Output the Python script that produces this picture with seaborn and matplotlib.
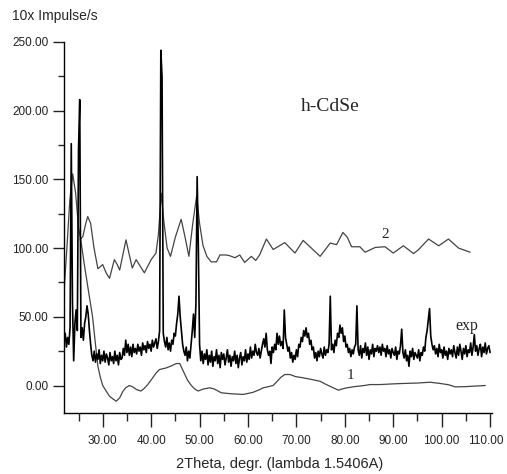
import numpy as np
import pandas as pd
import seaborn as sns
from matplotlib import pyplot as plt
from matplotlib.ticker import MultipleLocator, FormatStrFormatter
from matplotlib.transforms import ScaledTranslation

# experimental pattern, one value every 0.25 deg from 22.00 to 110.00
exp_start, exp_step = 22.0, 0.25
exp_y = [
    32, 38, 28, 35, 30, 42, 176, 60, 18, 45, 55, 40, 172, 208, 35, 42, 33, 45, 50, 58,   # 22
    52, 40, 30, 22, 18, 25, 17, 23, 19, 26, 16, 22, 18, 25, 17, 23, 20, 15, 24, 18,     # 27
    21, 16, 25, 18, 22, 15, 24, 19, 20, 27, 22, 33, 24, 30, 22, 28, 21, 30, 24, 27,     # 32
    23, 30, 25, 28, 22, 31, 26, 29, 24, 32, 27, 30, 25, 33, 28, 31, 34, 27, 32, 40,     # 37
    244, 225, 38, 32, 28, 35, 26, 31, 25, 33, 30, 38, 36, 45, 52, 65, 50, 40, 30, 25,   # 42
    22, 28, 18, 25, 20, 30, 40, 52, 35, 60, 152, 100, 30, 18, 25, 16, 23, 19, 26, 15,  # 47
    22, 17, 25, 14, 21, 18, 26, 16, 22, 13, 24, 19, 23, 15, 20, 26, 17, 22, 14, 21,     # 52
    18, 25, 16, 22, 13, 20, 24, 15, 21, 18, 26, 17, 23, 19, 28, 20, 25, 22, 30, 24,     # 57
    22, 27, 20, 25, 30, 34, 28, 38, 26, 22, 25, 16, 28, 24, 30, 26, 38, 30, 36, 29,     # 62
    32, 27, 55, 35, 30, 25, 28, 20, 24, 17, 22, 19, 26, 21, 30, 28, 35, 32, 40, 36,     # 67
    42, 35, 38, 30, 33, 26, 28, 20, 24, 18, 25, 21, 27, 23, 20, 28, 22, 26, 24, 30,     # 72
    65, 26, 30, 24, 33, 29, 38, 35, 44, 38, 42, 32, 36, 28, 30, 24, 27, 21, 26, 23,     # 77
    28, 30, 58, 26, 22, 29, 20, 27, 24, 31, 22, 28, 19, 26, 23, 30, 21, 27, 25, 29,     # 82
    24, 28, 22, 30, 25, 27, 21, 29, 23, 26, 20, 27, 24, 22, 28, 19, 25, 23, 29, 41,     # 87
    24, 20, 26, 18, 22, 14, 25, 21, 27, 19, 24, 22, 20, 26, 18, 24, 22, 28, 25, 35,     # 92
    40, 48, 56, 36, 30, 26, 29, 23, 27, 21, 30, 24, 26, 20, 28, 22, 25, 19, 27, 23,     # 97
    26, 21, 29, 24, 20, 28, 22, 30, 25, 19, 27, 23, 29, 21, 26, 24, 31, 22, 28, 37,     # 102
    25, 29, 22, 27, 30, 21, 28, 24, 31, 23, 27, 29, 24,                                 # 107
]
exp_x = exp_start + exp_step * np.arange(len(exp_y))

# calculated pattern 1
c1_x = [22.0, 22.6, 23.2, 23.8, 24.4, 25.0, 25.5, 26.2, 27.0, 27.9, 28.5, 29.0, 29.5,
        30.0, 30.7, 31.4, 32.2, 32.8, 33.5, 34.2, 34.8, 35.5, 36.2, 37.0, 37.9, 38.6,
        39.3, 40.2, 41.0, 41.7, 43.1, 44.3, 45.2, 45.9, 46.7, 47.5, 48.3, 49.0, 49.7,
        50.8, 52.1, 53.0, 54.5, 56.5, 59.0, 61.0, 62.4, 63.1, 64.0, 65.2, 66.0, 66.8,
        67.6, 68.7, 69.8, 71.4, 73.0, 74.9, 76.0, 77.5, 78.7, 79.5, 80.4, 82.0, 84.0,
        85.2, 87.3, 90.0, 92.1, 95.0, 97.6, 99.7, 101.5, 102.8, 105.0, 107.0, 109.0]
c1_y = [68, 100, 135, 154, 140, 115, 105, 88, 70, 50, 30, 14, 6,
        0, -4, -7.8, -10, -11.4, -9, -4, -1.5, 0, -1, -3, -4, -2,
        0.7, 5, 9, 11.6, 12.8, 14.5, 16, 16, 10, 4, 0, -2.5, -4,
        -2.5, -1.7, -2.5, -5.3, -6, -6.5, -5, -3, -1.7, -1, 0, 3, 6,
        8, 8, 6.5, 5.6, 4.5, 3.1, 1, -1.5, -3.4, -2.5, -1.7, -0.8, 0,
        0.7, 0.7, 1.2, 1.5, 1.8, 2.4, 1.5, 0.5, -1, -0.8, -0.4, 0]

# calculated pattern 2
c2_x = [25.3, 25.9, 26.5, 26.9, 27.5, 28.2, 29.0, 30.0, 30.7, 31.4, 32.4, 33.0, 33.5,
        34.8, 36.1, 36.9, 38.6, 40.0, 41.0, 41.5, 42.1, 42.6, 43.3, 44.0, 45.0, 46.2,
        47.0, 47.8, 48.6, 49.4, 50.0, 50.7, 51.5, 52.4, 53.5, 54.2, 55.5, 56.2, 57.3,
        58.3, 59.3, 60.7, 61.6, 62.4, 63.8, 65.2, 67.6, 69.7, 71.4, 74.9, 77.0, 78.3,
        79.6, 80.5, 81.4, 83.1, 84.2, 86.3, 88.3, 90.0, 92.1, 94.2, 95.2, 97.3, 99.4,
        101.4, 103.5, 105.9]
c2_y = [106, 108.5, 118, 123, 118, 100, 85, 88, 82, 78, 91.6, 88, 84,
        106, 85.5, 91.6, 82, 91.6, 96.4, 110, 140, 120, 100, 94, 108, 121,
        108, 94, 118, 138, 118, 102, 94, 90, 90, 95, 95, 94.5, 93,
        95, 89.6, 94, 91, 95, 106.6, 99, 104, 96.4, 105.6, 94, 103.7, 102.5,
        111.4, 108, 101, 101, 97, 100.5, 101, 96.4, 101.7, 96, 98.8, 106.6, 101.7,
        106.6, 100, 97]

x_major = 10
y_major = 50

sns.set_style('ticks')
plt.rcParams['font.family'] = ['Liberation Sans', 'DejaVu Sans']

fig = plt.figure(figsize=(5.07, 4.74), dpi=100)
ax = fig.add_axes([64 / 507, 1 - 413 / 474, (492 - 64) / 507, (413 - 42) / 474])

df_exp = pd.DataFrame({'x': exp_x, 'y': exp_y})
df_1 = pd.DataFrame({'x': c1_x, 'y': c1_y})
df_2 = pd.DataFrame({'x': c2_x, 'y': c2_y})

sns.lineplot(data=df_1, x='x', y='y', ax=ax, color='#444444', lw=0.9, sort=False, estimator=None)
sns.lineplot(data=df_2, x='x', y='y', ax=ax, color='#444444', lw=0.9, sort=False, estimator=None)
sns.lineplot(data=df_exp, x='x', y='y', ax=ax, color='black', lw=1.2, sort=False, estimator=None)

ax.set_xlim(22, 110.4)
ax.set_ylim(-20, 250)
ax.set_xlabel('')
ax.set_ylabel('')
sns.despine(ax=ax)
ax.spines['left'].set_bounds(-20, 250)

ax.xaxis.set_major_formatter(FormatStrFormatter('%.2f'))
ax.yaxis.set_major_locator(MultipleLocator(y_major))
ax.yaxis.set_minor_locator(MultipleLocator(y_major / 2))
ax.yaxis.set_major_formatter(FormatStrFormatter('%.2f'))
ax.set_xticks(np.arange(30, 111, x_major))
ax.set_xticks(np.arange(25, 110, x_major), minor=True)
ax.tick_params(axis='x', which='major', length=10, width=1, pad=6, labelsize=8.5, colors='#222222')
ax.tick_params(axis='x', which='minor', length=6, width=1)
ax.tick_params(axis='y', which='major', length=8, width=1, pad=3, labelsize=8.5, colors='#222222')
ax.tick_params(axis='y', which='minor', length=4, width=1)
for s in ['left', 'bottom']:
    ax.spines[s].set_linewidth(1)
    ax.spines[s].set_color('black')

# keep the last x label inside the canvas
fig.canvas.draw()
last = ax.get_xticklabels()[-1]
last.set_transform(last.get_transform() + ScaledTranslation(-4 / 100, 0, fig.dpi_scale_trans))

serif = ['Liberation Serif', 'DejaVu Serif']
ax.text(76.9, 203, 'h-CdSe', family=serif, fontsize=14, ha='center', va='center')
ax.text(88.3, 110, '2', family=serif, fontsize=11, ha='center', va='center')
ax.text(105.2, 43, 'exp', family=serif, fontsize=11.5, ha='center', va='center')
ax.text(81.2, 7, '1', family=serif, fontsize=11, ha='center', va='center')

fig.text(12 / 507, 1 - 16 / 474, '10x Impulse/s', fontsize=10, ha='left', va='center')
fig.text(280 / 507, 1 - 464 / 474, '2Theta, degr. (lambda 1.5406A)',
         fontsize=10.5, ha='center', va='center')

fig.savefig('out.png', dpi=100)
